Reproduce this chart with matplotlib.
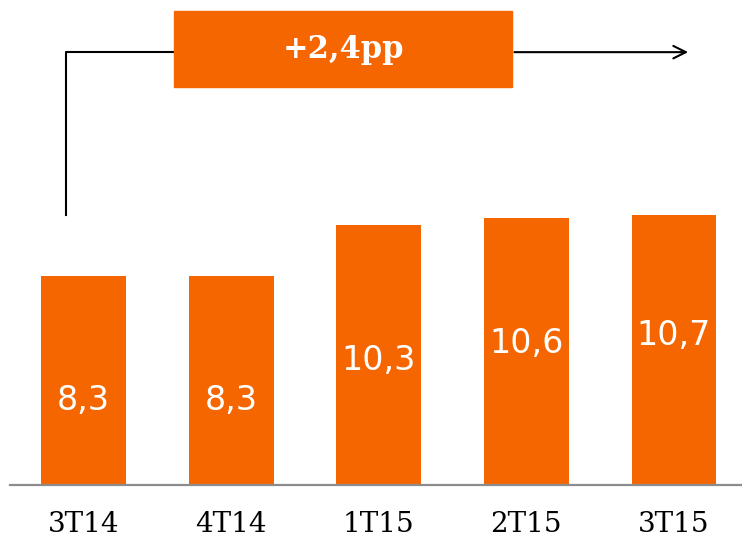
import matplotlib.pyplot as plt
from matplotlib.patches import Rectangle

# Data
quarters = ["3T14", "4T14", "1T15", "2T15", "3T15"]
values = [8.3, 8.3, 10.3, 10.6, 10.7]
value_labels = ["8,3", "8,3", "10,3", "10,6", "10,7"]
label_y = [3.35, 3.35, 4.95, 5.6, 5.95]  # where the labels sit inside the bars
change_label = "+2,4pp"

orange = "#F56600"

fig = plt.figure(figsize=(7.42, 5.39), dpi=100)
ax = fig.add_axes([10 / 742, 1 - 485 / 539, 1 - 10 / 742, 485 / 539])

x = range(len(quarters))
ax.bar(x, values, width=0.575, color=orange, zorder=2)
for xi, lab, ly in zip(x, value_labels, label_y):
    ax.text(xi, ly, lab, ha="center", va="center", color="white",
            fontsize=24, family="DejaVu Sans")

ax.set_xlim(-0.498, 4.461)
ax.set_ylim(0, 19.25)

# Axis styling
for s in ["top", "right", "left"]:
    ax.spines[s].set_visible(False)
ax.spines["bottom"].set_color("#8c8c8c")
ax.spines["bottom"].set_linewidth(1.6)
ax.set_yticks([])
ax.set_xticks(list(x))
ax.set_xticklabels(quarters, family="DejaVu Serif", fontsize=20)
ax.tick_params(axis="x", length=0, pad=19)

# Growth arrow
ax.plot([-0.119, -0.119, 0.62], [10.7, 17.18, 17.18], color="black", lw=1.5,
        clip_on=False, zorder=3)
ax.annotate("", xy=(4.115, 17.18), xytext=(2.9, 17.18),
            arrowprops=dict(arrowstyle="->,head_length=0.9,head_width=0.45",
                            color="black", lw=1.5), annotation_clip=False)
ax.add_patch(Rectangle((0.613, 15.79), 2.903 - 0.613, 18.81 - 15.79,
                       color=orange, zorder=4, clip_on=False))
ax.text(1.758, 17.3, change_label, ha="center", va="center", color="white",
        fontsize=22, fontweight="bold", family="DejaVu Serif", zorder=5)

fig.savefig("out.png", dpi=100)
